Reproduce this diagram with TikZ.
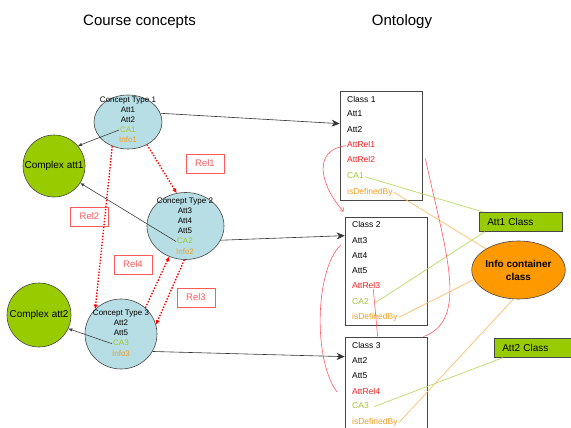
\documentclass[tikz,border=0pt]{standalone}
\usepackage{fontspec}
\setmainfont{Liberation Sans}
\usetikzlibrary{shapes.geometric,arrows.meta,calc}
\definecolor{conceptblue}{RGB}{183,222,228}
\definecolor{attgreen}{RGB}{153,204,0}
\definecolor{catext}{RGB}{160,200,50}
\definecolor{infotext}{RGB}{240,160,40}
\definecolor{infofill}{RGB}{255,153,0}
\definecolor{edgegray}{RGB}{70,70,70}
\definecolor{relred}{RGB}{255,90,90}
\definecolor{attrred}{RGB}{255,30,30}
\definecolor{curvered}{RGB}{255,90,100}
\definecolor{greenline}{RGB}{185,220,100}
\definecolor{orangeline}{RGB}{255,190,110}
\begin{document}
\begin{tikzpicture}[x=1pt,y=-1pt,
  concept/.style={ellipse, draw=edgegray, fill=conceptblue, line width=0.6pt, inner sep=0pt},
  complex/.style={circle, draw=edgegray, fill=attgreen, line width=0.6pt, inner sep=0pt,
    font=\fontsize{10}{12}\selectfont},
  ctext/.style={font=\fontsize{8}{9}\selectfont, inner sep=1pt, text height=5.8pt, text depth=1.6pt},
  cltext/.style={font=\fontsize{8.5}{10}\selectfont, inner sep=1pt, text height=6.2pt,
    text depth=1.7pt, anchor=west},
  classbox/.style={draw=edgegray, line width=0.7pt, inner sep=0pt},
  relbox/.style={draw=relred, line width=0.6pt, text=relred, font=\fontsize{9.5}{11}\selectfont,
    minimum width=38pt, minimum height=19pt, inner sep=0pt},
  relarrow/.style={draw=red, line width=1.4pt, dash pattern=on 1.4pt off 1.6pt,
    -{Latex[length=4.5pt,width=4.5pt]}},
  attlink/.style={draw=black!75, line width=0.6pt, -{Latex[length=4pt,width=3.5pt]}},
  maparrow/.style={draw=black!80, line width=0.6pt, -{Stealth[length=8pt,width=7pt]}},
  greenlink/.style={draw=greenline, line width=0.7pt},
  orangelink/.style={draw=orangeline, line width=0.7pt},
  ownrel/.style={draw=curvered, line width=0.6pt},
  attclass/.style={draw=edgegray, fill=attgreen, line width=0.6pt, anchor=north west,
    minimum height=19pt, inner xsep=8pt, inner ysep=0pt, align=left,
    font=\fontsize{10}{12}\selectfont},
  title/.style={font=\fontsize{15}{18}\selectfont}]
\clip (0,0) rectangle (571,428);
\fill[white] (0,0) rectangle (571,428);

% headings
\node[title] (hcourse) at (139.5,22) {Course concepts};
\node[title] (hont) at (402,22) {Ontology};

% course concepts
\node[concept, minimum width=68pt, minimum height=54pt] (ct1) at (128,122) {};
\node[concept, minimum width=77pt, minimum height=67pt] (ct2) at (185.5,226) {};
\node[concept, minimum width=72pt, minimum height=70pt] (ct3) at (121,334) {};
\node[complex, minimum size=62pt] (cx1) at (54,166) {Complex att1};
\node[complex, minimum size=64pt] (cx2) at (39,315) {Complex att2};

\node[ctext] (ct1t) at (128,100) {Concept Type 1};
\node[ctext] (ct1a) at (128,110) {Att1};
\node[ctext] (ct1b) at (128,120) {Att2};
\node[ctext, text=catext] (ca1) at (128,130) {CA1};
\node[ctext, text=infotext] (in1) at (128,140) {Info1};

\node[ctext] (ct2t) at (185,201) {Concept Type 2};
\node[ctext] (ct2a) at (185,211) {Att3};
\node[ctext] (ct2b) at (185,221.5) {Att4};
\node[ctext] (ct2c) at (185,231.5) {Att5};
\node[ctext, text=catext] (ca2) at (185,241.5) {CA2};
\node[ctext, text=infotext] (in2) at (185,252) {Info2};

\node[ctext] (ct3t) at (121,313.3) {Concept Type 3};
\node[ctext] (ct3a) at (121,323.3) {Att2};
\node[ctext] (ct3b) at (121,333.3) {Att5};
\node[ctext, text=catext] (ca3) at (121,343.7) {CA3};
\node[ctext, text=infotext] (in3) at (121,354.3) {Info3};

% relation labels
\node[relbox] (rel1) at (205,163.5) {Rel1};
\node[relbox] (rel2) at (89.5,216.5) {Rel2};
\node[relbox] (rel4) at (133,264.5) {Rel4};
\node[relbox] (rel3) at (196,297.5) {Rel3};

% relations between concept types
\draw[relarrow] (ct1.-50) -- (ct2.105);
\draw[relarrow] (ct1.-123) -- (ct3.136);
\draw[relarrow] (ct3.47) -- (ct2.-118);
\draw[relarrow] (ct2.-92) -- (ct3.15);

% complex attributes
\draw[attlink] (ca1.west) -- (cx1.40);
\draw[attlink] (ca2.west) -- (cx1.-33);
\draw[attlink] (ca3.west) -- (cx2.-25);

% ontology classes
\node[classbox, minimum width=82pt, minimum height=109pt] (c1) at (381,145.5) {};
\node[classbox, minimum width=82pt, minimum height=108pt] (c2) at (386,271) {};
\node[classbox, minimum width=82pt, minimum height=110pt] (c3) at (386,392) {};

\node[cltext] (c1t) at (346,100) {Class 1};
\node[cltext] (c1a) at (346,114.5) {Att1};
\node[cltext] (c1b) at (346,130) {Att2};
\node[cltext, text=attrred] (ar1) at (346,145.7) {AttRel1};
\node[cltext, text=attrred] (ar2) at (346,160.7) {AttRel2};
\node[cltext, text=catext] (cc1) at (346,176.7) {CA1};
\node[cltext, text=infotext] (db1) at (346,192.3) {isDefinedBy};

\node[cltext] (c2t) at (351,225.7) {Class 2};
\node[cltext] (c2a) at (351,241) {Att3};
\node[cltext] (c2b) at (351,256) {Att4};
\node[cltext] (c2c) at (351,271.3) {Att5};
\node[cltext, text=attrred] (ar3) at (351,286) {AttRel3};
\node[cltext, text=catext] (cc2) at (351,302.3) {CA2};
\node[cltext, text=infotext] (db2) at (351,317.3) {isDefinedBy};

\node[cltext] (c3t) at (351,346) {Class 3};
\node[cltext] (c3a) at (351,361) {Att2};
\node[cltext] (c3b) at (351,376.7) {Att5};
\node[cltext, text=attrred] (ar4) at (351,392) {AttRel4};
\node[cltext, text=catext] (cc3) at (351,406.7) {CA3};
\node[cltext, text=infotext] (db3) at (351,422.7) {isDefinedBy};

% target classes
\node[attclass, text width=67pt] (at1) at (479,212) {Att1 Class};
\node[attclass, text width=80pt] (at2) at (494,338) {Att2 Class};
\node[ellipse, draw=edgegray, fill=infofill, line width=0.6pt, inner sep=0pt,
  minimum width=77pt, minimum height=58pt, align=center,
  font=\fontsize{10}{13}\selectfont\bfseries] (info) at (518.5,270) {Info container\\class};

% concept types mapped to classes
\draw[maparrow] (ct1.15) -- ($(c1.north west)+(0,33)$);
\draw[maparrow] (ct2.-22) -- ($(c2.north west)+(0,19)$);
\draw[maparrow] (ct3.-29) -- ($(c3.north west)+(0,20)$);

% attribute and info links
\draw[greenlink] (cc1.east) -- ($(at1.north west)+(4,0)$);
\draw[greenlink] ($(cc2.east)+(6,0)$) -- ($(at1.south west)+(6,0)$);
\draw[greenlink] ($(cc3.east)+(4,0)$) -- ($(at2.south west)+(9,0)$);
\draw[orangelink] (db1.east) -- (info.147);
\draw[orangelink] (db2.east) -- (info.192);
\draw[orangelink] (db3.east) -- (info.-100);

% relations between classes
\draw[ownrel, -{Straight Barb[length=3pt,width=5pt]}] (ar1.west)
  .. controls (312,150) and (320,185) .. ($(c2.north west)+(-1,-5)$);
\draw[ownrel] ($(c1.east)+(3,13)$)
  .. controls (445,250) and (470,320) .. ($(c3.north east)+(-4,0)$);
\draw[ownrel] ($(c2.west)+(-4,-26)$)
  .. controls (315,270) and (313,360) .. ($(ar4.west)+(-14,0)$);
\draw[ownrel] ($(ar3.east)+(-8,3)$) -- ($(c3.north west)+(33,0)$);
\end{tikzpicture}
\end{document}
